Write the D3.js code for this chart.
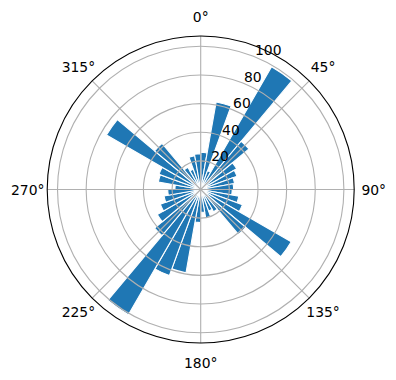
<!DOCTYPE html>
<html>
<head>
<meta charset="utf-8">
<script src="https://cdn.jsdelivr.net/npm/d3@7"></script>
<style>
  body { margin: 0; background: #fff; }
  text { font-family: "DejaVu Sans", sans-serif; font-size: 13.9px; fill: #000; }
</style>
</head>
<body>
<div id="container"></div>
<script>
/* DATA */
// bin centres, degrees clockwise from north
const directions = [5, 15, 25, 35, 45, 55, 65, 75, 85, 95, 105, 115,
  125, 135, 145, 155, 165, 175, 185, 195, 205, 215, 225, 235,
  245, 255, 265, 275, 285, 295, 305, 315, 325, 335, 345, 355]
const counts = [26, 62, 14, 99, 44, 29, 27, 24, 23, 22, 27, 31,
  73, 41, 18, 16, 20, 16, 23, 59, 64, 101, 42, 35,
  30, 26, 23, 18, 30, 31, 76, 42, 18, 15, 24, 25]
const binWidth = 10
const rTicks = [20, 40, 60, 80, 100]
const thetaTicks = [0, 45, 90, 135, 180, 225, 270, 315]
const thetaLabels = ['0°', '45°', '90°', '135°', '180°', '225°', '270°', '315°']

/* CONSTANTS */
const width = 396,
  height = 380,
  cx = 200.7,
  cy = 189.5,
  outer = 153.5,
  rMax = 107.2

const svg = d3.select('#container')
  .append('svg')
  .attr('width', width)
  .attr('height', height)

const g = svg.append('g')
  .attr('transform', `translate(${cx}, ${cy})`)

const rScale = d3.scaleLinear()
  .domain([0, rMax])
  .range([0, outer])

const toRad = d => d * Math.PI / 180

// bars
const arc = d3.arc()
  .innerRadius(0)
  .outerRadius(d => rScale(d.value))
  .startAngle(d => toRad(d.dir - binWidth / 2))
  .endAngle(d => toRad(d.dir + binWidth / 2))

const bars = directions.map((d, i) => ({ dir: d, value: counts[i] }))

g.selectAll('path.bar')
  .data(bars)
  .join('path')
  .attr('class', 'bar')
  .attr('d', arc)
  .attr('fill', '#1f77b4')
  .attr('stroke', '#fff')
  .attr('stroke-width', 1.1)
  .attr('stroke-linejoin', 'miter')

// grid (drawn over the bars, like matplotlib)
g.selectAll('circle.rgrid')
  .data(rTicks)
  .join('circle')
  .attr('class', 'rgrid')
  .attr('r', d => rScale(d))
  .attr('fill', 'none')
  .attr('stroke', '#b0b0b0')
  .attr('stroke-width', 1.1)

g.selectAll('line.tgrid')
  .data(thetaTicks)
  .join('line')
  .attr('class', 'tgrid')
  .attr('x1', 0)
  .attr('y1', 0)
  .attr('x2', d => outer * Math.sin(toRad(d)))
  .attr('y2', d => -outer * Math.cos(toRad(d)))
  .attr('stroke', '#b0b0b0')
  .attr('stroke-width', 1.1)

// outer spine
g.append('circle')
  .attr('r', outer)
  .attr('fill', 'none')
  .attr('stroke', '#000')
  .attr('stroke-width', 1.1)

// theta labels
const labelR = outer + 19.5
g.selectAll('text.tlabel')
  .data(thetaTicks)
  .join('text')
  .attr('class', 'tlabel')
  .attr('x', d => labelR * Math.sin(toRad(d)))
  .attr('y', d => -labelR * Math.cos(toRad(d)))
  .attr('text-anchor', 'middle')
  .attr('dominant-baseline', 'central')
  .text((d, i) => thetaLabels[i])

// r labels at 22.5 degrees
const rAngle = toRad(22.5)
g.selectAll('text.rlabel')
  .data(rTicks)
  .join('text')
  .attr('class', 'rlabel')
  .attr('x', d => rScale(d) * Math.sin(rAngle) - 0.5)
  .attr('y', d => -rScale(d) * Math.cos(rAngle) - 2)
  .attr('text-anchor', 'start')
  .text(d => d)
</script>
</body>
</html>
